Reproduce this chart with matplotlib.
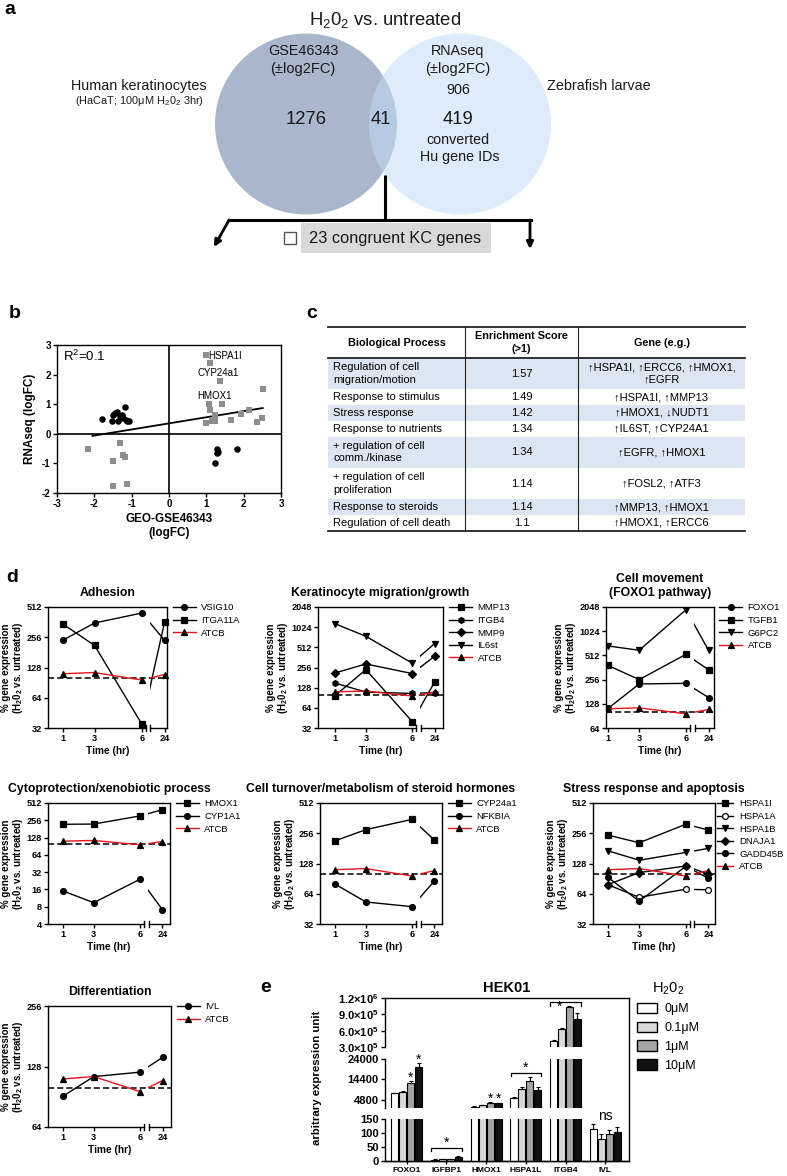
import numpy as np
import matplotlib
matplotlib.use("Agg")
import matplotlib.pyplot as plt
from matplotlib.patches import Ellipse, Rectangle, Patch
from matplotlib.lines import Line2D
from matplotlib.ticker import NullLocator

W, H = 787, 1176
plt.rcParams['font.family'] = ['Liberation Sans', 'DejaVu Sans']
plt.rcParams['mathtext.fontset'] = 'custom'
plt.rcParams['mathtext.rm'] = 'Liberation Sans'
plt.rcParams['mathtext.bf'] = 'Liberation Sans:bold'
plt.rcParams['axes.linewidth'] = 1.0

# ---------------- data ----------------
# a: Venn counts
kc_only = 1276
shared = 41
zf_total = 906
zf_only = 419
congruent = 23

# b: log fold changes (GEO vs RNAseq)
disc_x = [-1.80, -1.54, -1.49, -1.40, -1.36, -1.31, -1.27, -1.23, -1.18, -1.15, -1.13, -1.06, -1.45,
          1.28, 1.28, 1.30, 1.81, 1.23]
disc_y = [0.49, 0.42, 0.64, 0.75, 0.42, 0.61, 0.64, 0.55, 0.90, 0.47, 0.42, 0.42, 0.70,
          -0.52, -0.65, -0.60, -0.52, -0.97]
cong_x = [0.98, 1.10, 1.37, 2.53, 1.08, 1.41, 1.10, 1.23, 0.98, 1.14, 1.23, 1.66, 1.92, 2.15, 2.35, 2.48,
          -2.16, -1.30, -1.51, -1.24, -1.19, -1.51, -1.13]
cong_y = [2.66, 2.40, 1.80, 1.51, 1.00, 1.00, 0.81, 0.64, 0.38, 0.44, 0.44, 0.47, 0.67, 0.79, 0.39, 0.52,
          -0.51, -0.31, -0.91, -0.71, -0.80, -1.78, -1.71]
fit_x = [-2.05, 2.51]
fit_y = [-0.07, 0.87]

# c: enrichment table
bio_process = ["Regulation of cell\nmigration/motion", "Response to stimulus", "Stress response",
               "Response to nutrients", "+ regulation of cell\ncomm./kinase",
               "+ regulation of cell\nproliferation", "Response to steroids", "Regulation of cell death"]
enrich_score = ["1.57", "1.49", "1.42", "1.34", "1.34", "1.14", "1.14", "1.1"]
gene_eg = ["↑HSPA1I, ↑ERCC6, ↑HMOX1,\n↑EGFR", "↑HSPA1I, ↑MMP13", "↑HMOX1, ↓NUDT1",
           "↑IL6ST, ↑CYP24A1", "↑EGFR, ↑HMOX1", "↑FOSL2, ↑ATF3", "↑MMP13, ↑HMOX1", "↑HMOX1, ↑ERCC6"]

# d: % expression vs untreated at 1, 3, 6, 24 h
times = [1, 3, 6, 24]
atcb = [111, 114, 96, 109]
vsig10 = [240, 355, 446, 238]
itga11a = [345, 212, 35, 364]
mmp13 = [97, 238, 40, 154]
itgb4 = [150, 110, 105, 108]
mmp9 = [212, 289, 208, 376]
il6st = [1155, 748, 298, 581]
foxo1 = [112, 226, 230, 153]
tgfb1 = [384, 256, 528, 339]
g6pc2 = [671, 593, 1894, 593]
hmox1 = [218, 220, 305, 392]
cyp1a1 = [15.1, 9.4, 24.1, 7.1]
cyp24a1 = [215, 278, 352, 219]
nfkbia = [80, 53, 47.6, 86]
hspa1i = [245, 206, 315, 275]
hspa1a = [78.5, 59, 71, 70]
hspa1b = [171, 138, 165, 181]
dnaja1 = [79, 104, 121, 100]
gadd45b = [93, 54, 120, 91]
ivl = [91, 114, 120, 142]

# e: HEK01 expression
genes_e = ["FOXO1", "IGFBP1", "HMOX1", "HSPA1L", "ITGB4", "IVL"]
doses = ["0μM", "0.1μM", "1μM", "10μM"]
expr = [[7900, 5, 1700, 5600, 412000, 114],
        [8500, 7, 2300, 10100, 629000, 77],
        [12600, 7, 3400, 13700, 1030000, 97],
        [20400, 15, 3250, 9500, 809000, 102]]
expr_err = [[300, 1, 100, 400, 15000, 18],
            [300, 1, 150, 900, 20000, 18],
            [1100, 1, 300, 1700, 25000, 13],
            [1500, 2, 300, 1500, 110000, 21]]


def box(l, t, r, b):
    return [l / W, 1 - b / H, (r - l) / W, (b - t) / H]


fig = plt.figure(figsize=(W / 100, H / 100), dpi=100)

# overlay in pixel coordinates for panel a, table c and letters
ov = fig.add_axes([0, 0, 1, 1])
ov.set_xlim(0, W)
ov.set_ylim(H, 0)
ov.axis('off')

for x, y, s in [(10, 9, 'a'), (15, 313, 'b'), (312, 313, 'c'), (12, 578, 'd'), (266, 988, 'e')]:
    ov.text(x, y, s, fontsize=14, fontweight='bold', ha='center', va='center')

# ---------------- a: Venn ----------------
ov.add_patch(Ellipse((306, 124), 182, 181, fc='#aab6cc', ec='none', zorder=1))
ov.add_patch(Ellipse((460, 124), 182, 181, fc='#c2daf6', ec='none', alpha=0.54, zorder=2))
tk = dict(ha='center', va='center', color='#1a1a1a')
ov.text(385, 20, 'H$_2$0$_2$ vs. untreated', fontsize=13.3, **tk)
ov.text(303, 51, 'GSE46343', fontsize=10.4, **tk)
ov.text(303, 69, '(±log2FC)', fontsize=10.5, **tk)
ov.text(306, 120, str(kc_only), fontsize=13.3, **tk)
ov.text(381, 120, str(shared), fontsize=13.3, **tk)
ov.text(458, 51, 'RNAseq', fontsize=10.4, **tk)
ov.text(458, 69, '(±log2FC)', fontsize=10.5, **tk)
ov.text(458, 90, str(zf_total), fontsize=10.4, **tk)
ov.text(458, 120, str(zf_only), fontsize=13.3, **tk)
ov.text(458, 140, 'converted', fontsize=10.3, **tk)
ov.text(460, 157, 'Hu gene IDs', fontsize=10.3, **tk)
ov.text(139, 86, 'Human keratinocytes', fontsize=10.4, **tk)
ov.text(139, 101, '(HaCaT; 100μM H$_2$0$_2$ 3hr)', fontsize=7.9, **tk)
ov.text(599, 86, 'Zebrafish larvae', fontsize=10.4, **tk)

ov.plot([385, 385], [175, 220], color='black', lw=2.2, solid_capstyle='butt', zorder=3)
ov.plot([229, 531], [220, 220], color='black', lw=2.2, solid_capstyle='projecting', zorder=3)
for start, tip in [((229, 220), (214, 247)), ((530, 220), (530, 249))]:
    ov.annotate('', xy=tip, xytext=start,
                arrowprops=dict(arrowstyle='-|>', lw=2.0, color='black', mutation_scale=10,
                                shrinkA=0, shrinkB=0))
ov.add_patch(Rectangle((301, 223), 190, 30, fc='#d9d9d9', ec='none', zorder=1))
ov.add_patch(Rectangle((284, 232), 12, 12, fc='white', ec='#555555', lw=1.0, zorder=2))
ov.text(309, 238, f'{congruent} congruent KC genes', fontsize=11.8,
        ha='left', va='center', color='#1a1a1a')

# ---------------- c: table ----------------
cols = [328, 465, 578, 745]
tab_top, head_bot = 327, 358
line_h = 15.7
y = head_bot
for i, (bp, sc, gn) in enumerate(zip(bio_process, enrich_score, gene_eg)):
    h = line_h * (1 + bp.count('\n'))
    if i % 2 == 0:
        ov.add_patch(Rectangle((cols[0], y), cols[3] - cols[0], h, fc='#dce6f2', ec='none', zorder=1))
    yc = y + h / 2
    ov.text(cols[0] + 5, yc, bp, fontsize=8, ha='left', va='center', linespacing=1.3)
    ov.text((cols[1] + cols[2]) / 2, yc, sc, fontsize=8, ha='center', va='center')
    ov.text((cols[2] + cols[3]) / 2, yc, gn, fontsize=8, ha='center', va='center', linespacing=1.3)
    y += h
tab_bot = y
for yy in (tab_top, head_bot, tab_bot):
    ov.plot([cols[0], cols[3]], [yy, yy], color='#222222', lw=1.3, zorder=3)
for xx in cols[1:3]:
    ov.plot([xx, xx], [tab_top, tab_bot], color='#222222', lw=0.8, zorder=3)
hy = (tab_top + head_bot) / 2
ov.text((cols[0] + cols[1]) / 2, hy, 'Biological Process', fontsize=7.8, fontweight='bold',
        ha='center', va='center')
ov.text((cols[1] + cols[2]) / 2, hy, 'Enrichment Score\n(>1)', fontsize=7.8, fontweight='bold',
        ha='center', va='center', linespacing=1.3)
ov.text((cols[2] + cols[3]) / 2, hy, 'Gene (e.g.)', fontsize=7.8, fontweight='bold',
        ha='center', va='center')

# ---------------- b: scatter ----------------
axb = fig.add_axes(box(57, 345, 281, 493))
axb.axhline(0, color='black', lw=1.2, zorder=1)
axb.axvline(0, color='black', lw=1.2, zorder=1)
axb.scatter(cong_x, cong_y, marker='s', s=20, color='#8e8e8e', linewidths=0, zorder=3)
axb.scatter(disc_x, disc_y, marker='o', s=22, color='black', linewidths=0, zorder=3)
axb.plot(fit_x, fit_y, color='black', lw=1.3, zorder=2)
axb.set_xlim(-3, 3)
axb.set_ylim(-2, 3)
axb.set_xticks(range(-3, 4))
axb.set_yticks(range(-2, 4))
axb.set_xticklabels([str(v) for v in range(-3, 4)], fontweight='bold')
axb.set_yticklabels([str(v) for v in range(-2, 4)], fontweight='bold')
axb.tick_params(direction='out', length=3, width=1, labelsize=7, pad=1.5)
axb.text(-2.85, 2.62, 'R$^2$=0.1', fontsize=9.5, va='center')
axb.text(1.05, 2.63, 'HSPA1I', fontsize=7, va='center')
axb.text(0.75, 2.06, 'CYP24a1', fontsize=7, va='center')
axb.text(0.75, 1.28, 'HMOX1', fontsize=7, va='center')
axb.set_ylabel('RNAseq (logFC)', fontsize=8.5, fontweight='bold', labelpad=4)
axb.set_xlabel('GEO-GSE46343\n(logFC)', fontsize=8.5, fontweight='bold', labelpad=3)

# ---------------- d: time courses ----------------
K = 1.45 / 18  # compressed scale after the axis break


def tpos(t):
    t = np.asarray(t, dtype=float)
    return np.where(t <= 6, t, 6 + (t - 6) * K)


def tinv(d):
    d = np.asarray(d, dtype=float)
    return np.where(d <= 6, d, 6 + (d - 6) / K)


def line_panel(rect, title, series, ylim, drange, leg_x=1.05, hlen=2.4):
    ax = fig.add_axes(box(*rect))
    ax.set_xscale('function', functions=(tpos, tinv))
    ax.set_yscale('log', base=2)
    ax.axhline(100, color='black', lw=1.1, dashes=(4, 2), zorder=1)
    t_clip = float(tinv(6.5))
    clip = Rectangle((t_clip, -1), 1000, 3, transform=ax.get_xaxis_transform())
    handles = []
    for name, vals, mk, filled in series:
        lc = '#e8141a' if name == 'ATCB' else 'black'
        kw = dict(color=lc, lw=1.0, marker=mk, ms=3.6 if mk == 'D' else 4.2,
                  mfc='black' if filled else 'white', mec='black', mew=0.9, zorder=3)
        h, = ax.plot(times[:3], vals[:3], label=name, **kw)
        seg, = ax.plot(times[2:], vals[2:], **kw)
        seg.set_clip_path(clip)
        handles.append(h)
    xl, xr = float(tinv(drange[0])), float(tinv(drange[1]))
    bl, br = float(tinv(6.25)), float(tinv(6.55))
    tr = ax.get_xaxis_transform()
    ax.spines['bottom'].set_visible(False)
    for sx in ([xl, bl], [br, xr]):
        ax.add_line(Line2D(sx, [0, 0], transform=tr, color='black', lw=1, clip_on=False))
    for xb in (bl, br):
        ax.add_line(Line2D([xb, xb], [-0.025, 0.025], transform=tr, color='black', lw=1, clip_on=False))
    ax.set_xlim(xl, xr)
    ax.set_ylim(*ylim)
    yt = [ylim[0] * 2 ** k for k in range(int(np.log2(ylim[1] / ylim[0])) + 1)]
    ax.set_yticks(yt)
    ax.set_yticklabels([f'{v:g}' for v in yt], fontweight='bold')
    ax.set_xticks(times)
    ax.set_xticklabels([str(t) for t in times], fontweight='bold')
    ax.xaxis.set_minor_locator(NullLocator())
    ax.yaxis.set_minor_locator(NullLocator())
    ax.tick_params(direction='out', length=3, width=1, labelsize=6.6, pad=1.2)
    ax.set_title(title, fontsize=8.8, fontweight='bold', pad=8)
    ax.set_xlabel('Time (hr)', fontsize=7.3, fontweight='bold', labelpad=2)
    ax.set_ylabel('% gene expression\n(H$_\\mathbf{2}$0$_\\mathbf{2}$ vs. untreated)', fontsize=7.0,
                  fontweight='bold', labelpad=1, linespacing=1.0)
    ax.legend(handles=handles, loc='upper left', bbox_to_anchor=(leg_x, 1.03), frameon=False,
              fontsize=6.8, handlelength=hlen, handletextpad=0.6, labelspacing=0.38,
              borderaxespad=0, borderpad=0)
    return ax


line_panel((48, 607, 167, 728), 'Adhesion',
           [('VSIG10', vsig10, 'o', True), ('ITGA11A', itga11a, 's', True), ('ATCB', atcb, '^', True)],
           (32, 512), (0.04, 7.6))
line_panel((318, 607, 443, 728), 'Keratinocyte migration/growth',
           [('MMP13', mmp13, 's', True), ('ITGB4', itgb4, 'h', True), ('MMP9', mmp9, 'D', True),
            ('IL6st', il6st, 'v', True), ('ATCB', atcb, '^', True)],
           (32, 2048), (-0.1, 8.0))
line_panel((606, 607, 714, 728), 'Cell movement\n(FOXO1 pathway)',
           [('FOXO1', foxo1, 'o', True), ('TGFB1', tgfb1, 's', True), ('G6PC2', g6pc2, 'v', True),
            ('ATCB', atcb, '^', True)],
           (64, 2048), (0.87, 7.8))
line_panel((48, 803, 170, 924), 'Cytoprotection/xenobiotic process',
           [('HMOX1', hmox1, 's', True), ('CYP1A1', cyp1a1, 'o', True), ('ATCB', atcb, '^', True)],
           (4, 512), (0.04, 7.94))
line_panel((320, 803, 442, 924), 'Cell turnover/metabolism of steroid hormones',
           [('CYP24a1', cyp24a1, 's', True), ('NFKBIA', nfkbia, 'o', True), ('ATCB', atcb, '^', True)],
           (32, 512), (0.03, 7.94))
line_panel((593, 803, 715, 924), 'Stress response and apoptosis',
           [('HSPA1I', hspa1i, 's', True), ('HSPA1A', hspa1a, 'o', False), ('HSPA1B', hspa1b, 'v', True),
            ('DNAJA1', dnaja1, 'D', True), ('GADD45B', gadd45b, 'o', True), ('ATCB', atcb, '^', True)],
           (32, 512), (0.03, 7.87), leg_x=1.02, hlen=1.7)
line_panel((48, 1006, 171, 1127), 'Differentiation',
           [('IVL', ivl, 'o', True), ('ATCB', atcb, '^', True)],
           (64, 256), (0.04, 8.0))

# ---------------- e: HEK01 bars with broken y axis ----------------
gx = np.arange(len(genes_e))
offs = [-0.3, -0.1, 0.1, 0.3]
dose_colors = ['white', '#d9d9d9', '#a6a6a6', '#111111']
xlim_e = (-0.55, 5.6)

frame = fig.add_axes(box(385, 998, 629, 1161), facecolor='none')
frame.spines['left'].set_visible(False)
frame.set_xticks([])
frame.set_yticks([])
frame.set_xlim(*xlim_e)
frame.set_title('HEK01', fontsize=10.5, fontweight='bold', pad=4)

sci = [r'$\mathbf{3.0{\times}10^5}$', r'$\mathbf{6.0{\times}10^5}$', r'$\mathbf{9.0{\times}10^5}$',
       r'$\mathbf{1.2{\times}10^6}$']
seg_specs = [
    ('top', (385, 998, 629, 1047), (3e5, 1.2e6), [3e5, 6e5, 9e5, 1.2e6], sci),
    ('mid', (385, 1059, 629, 1108), (1050, 24000), [4800, 14400, 24000], ['4800', '14400', '24000']),
    ('bot', (385, 1119, 629, 1161), (0, 150), [0, 50, 100, 150], ['0', '50', '100', '150']),
]
seg_ax = {}
for key, rect, ylim, yt, ylab in seg_specs:
    ax = fig.add_axes(box(*rect), facecolor='none')
    for i in range(4):
        ax.bar(gx + offs[i], expr[i], width=0.18, color=dose_colors[i], edgecolor='black',
               linewidth=0.8, zorder=2)
        ax.errorbar(gx + offs[i], expr[i], yerr=[np.zeros(len(gx)), expr_err[i]], fmt='none',
                    ecolor='black', elinewidth=0.8, capsize=1.6, capthick=0.8, zorder=3)
    ax.set_xlim(*xlim_e)
    ax.set_ylim(*ylim)
    ax.set_yticks(yt)
    ax.set_yticklabels(ylab, fontweight='bold')
    ax.tick_params(axis='y', direction='out', length=3, width=1, labelsize=8, pad=1.5)
    for s in ('top', 'right'):
        ax.spines[s].set_visible(False)
    if key == 'bot':
        ax.set_xticks(gx)
        ax.set_xticklabels(genes_e, fontweight='bold')
        ax.tick_params(axis='x', direction='out', length=2, width=1, labelsize=6, pad=2)
    else:
        ax.spines['bottom'].set_visible(False)
        ax.set_xticks([])
    seg_ax[key] = ax


def tops(g, idx):
    return [expr[i][g] + expr_err[i][g] for i in idx]


star_kw = dict(ha='center', va='center', fontsize=10, clip_on=False)
# single stars over bars
for g, key, pad in [(0, 'mid', 1600), (2, 'mid', 1600)]:
    for i in (2, 3):
        seg_ax[key].text(g + offs[i], expr[i][g] + expr_err[i][g] + pad, '*', **star_kw)


def bracket(key, g, y, drop, star_dx, star_dy):
    ax = seg_ax[key]
    ax.plot([g - 0.38, g - 0.38, g + 0.38, g + 0.38], [y - drop, y, y, y - drop], color='black',
            lw=0.9, clip_on=False)
    ax.text(g + star_dx, y + star_dy, '*', **star_kw)


bracket('bot', 1, max(tops(1, range(4))) + 28, 10, 0.0, 20)
bracket('mid', 3, max(tops(3, range(4))) + 2000, 1400, 0.0, 2400)
bracket('top', 4, max(tops(4, range(4))) + 65000, 60000, -0.15, -85000)
seg_ax['bot'].text(5, max(tops(5, range(4))) + 30, 'ns', ha='center', va='center', fontsize=10,
                   clip_on=False)

fig.text(317 / W, 1 - 1078 / H, 'arbitrary expression unit', rotation=90, fontsize=8.2,
         fontweight='bold', ha='center', va='center')

handles_e = [Patch(facecolor=c, edgecolor='black', linewidth=1.0, label=d)
             for c, d in zip(dose_colors, doses)]
fig.legend(handles=handles_e, title='H$_2$0$_2$', loc='upper left',
           bbox_to_anchor=(637 / W, 1 - 980 / H), frameon=False, fontsize=9, title_fontsize=10.5,
           handlelength=1.6, handleheight=0.9, handletextpad=0.6, labelspacing=0.5,
           borderpad=0, borderaxespad=0)

fig.savefig('out.png', dpi=100)
